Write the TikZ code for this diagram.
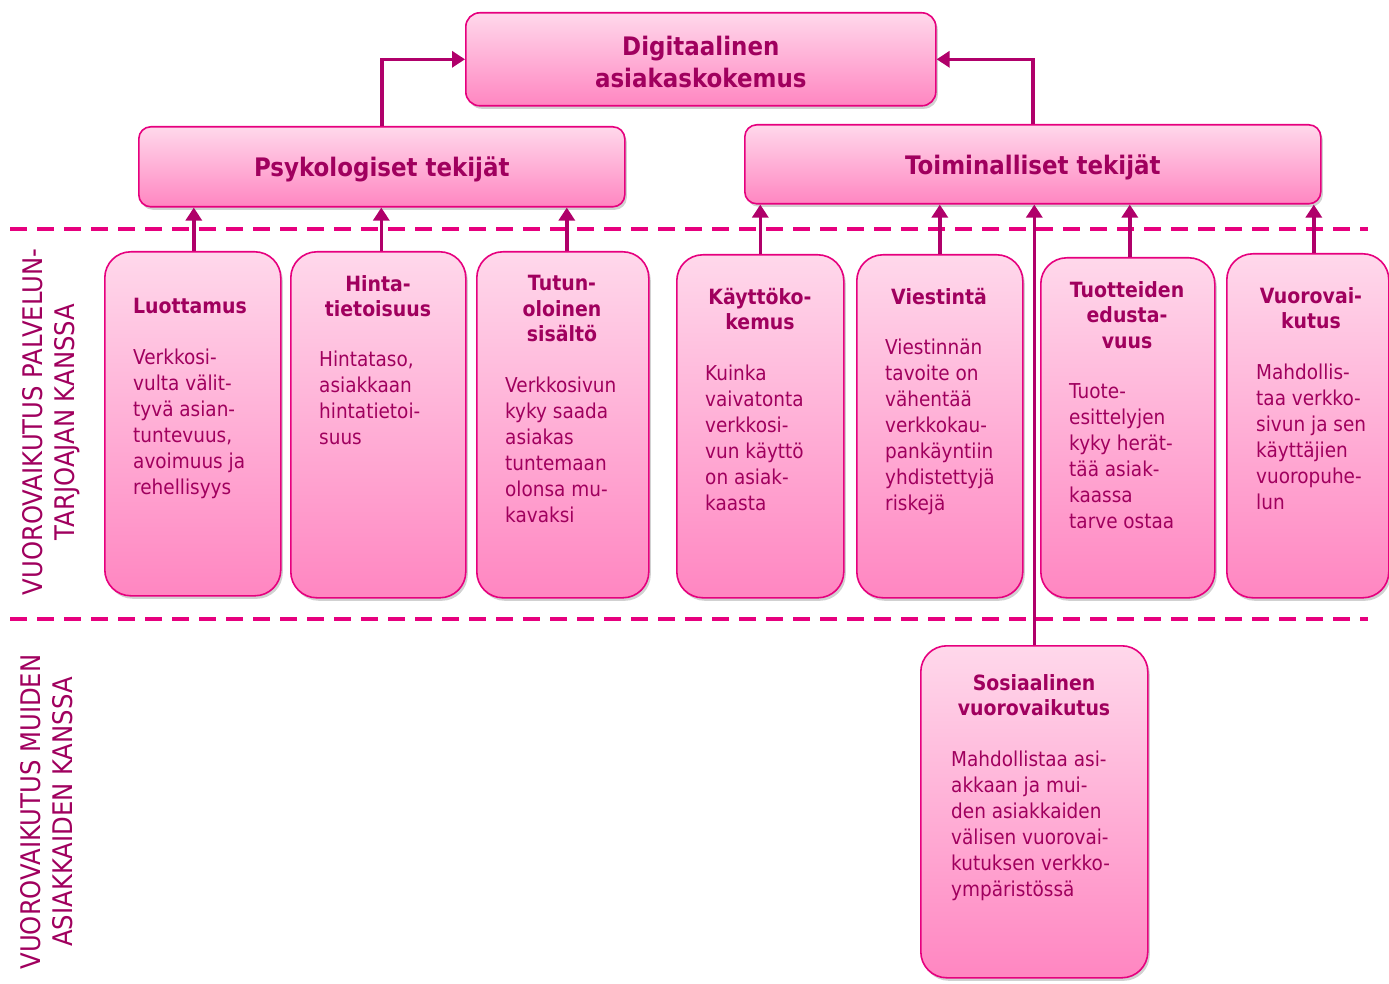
\documentclass[tikz,border=0pt]{standalone}
\usepackage{fontspec}
\setmainfont{DejaVu Sans}[FakeStretch=0.9]
\usetikzlibrary{arrows.meta,shadows}
\definecolor{txt}{HTML}{A0005E}
\definecolor{arr}{HTML}{B0006A}
\definecolor{bord}{HTML}{E6007E}
\definecolor{topc}{HTML}{FFD8EB}
\definecolor{botc}{HTML}{FF86C1}
\tikzset{
  pbox/.style={draw=bord, line width=1.6pt, top color=topc, bottom color=botc,
    rounded corners=#1, anchor=north west, inner sep=0pt,
    drop shadow={shadow xshift=2pt, shadow yshift=-3pt, opacity=0.3, fill=black!60}},
  hdr/.style={text=txt, font=\bfseries\fontsize{25.5}{32}\selectfont, align=center, inner sep=0pt},
  ttl/.style={text=txt, font=\bfseries\fontsize{21}{25.5}\selectfont, align=center, inner sep=0pt, anchor=north},
  bdy/.style={text=txt, font=\fontsize{20.5}{26}\selectfont, align=left, inner sep=0pt, anchor=north west},
  side/.style={text=txt, font=\fontsize{27}{32}\selectfont, align=center, inner sep=0pt, rotate=90},
  conn/.style={draw=arr, line width=3.5pt, -{Triangle[width=16pt,length=13pt]}},
  sep/.style={draw=bord, line width=4.5pt, dash pattern=on 17pt off 10pt},
}
\begin{document}
\begin{tikzpicture}[x=1pt,y=-1pt]
\useasboundingbox (0,0) rectangle (1389,984);
% separators
\coordinate (d1a) at (10,229); \coordinate (d1b) at (1368,229);
\coordinate (d2a) at (10,619); \coordinate (d2b) at (1368,619);
\draw[sep] (d1a) -- (d1b);
\draw[sep] (d2a) -- (d2b);
% side labels
\node[side] (s1) at (51,422) {VUOROVAIKUTUS PALVELUN-\\TARJOAJAN KANSSA};
\node[side] (s2) at (47,812) {VUOROVAIKUTUS MUIDEN\\ASIAKKAIDEN KANSSA};
% boxes
\node[pbox=14pt, minimum width=470pt, minimum height=93pt] (dig) at (465,12) {};
\node[pbox=12pt, minimum width=486pt, minimum height=80pt] (psy) at (138,126) {};
\node[pbox=12pt, minimum width=576pt, minimum height=79pt] (toi) at (744,124) {};
\node[pbox=26pt, minimum width=176pt, minimum height=344pt] (lu) at (104,251) {};
\node[pbox=26pt, minimum width=175pt, minimum height=346pt] (hi) at (290,251) {};
\node[pbox=26pt, minimum width=172pt, minimum height=346pt] (tu) at (476,251) {};
\node[pbox=26pt, minimum width=167pt, minimum height=343pt] (ka) at (676,254) {};
\node[pbox=26pt, minimum width=166pt, minimum height=343pt] (vi) at (856,254) {};
\node[pbox=26pt, minimum width=174pt, minimum height=340pt] (tt) at (1040,257) {};
\node[pbox=26pt, minimum width=162pt, minimum height=344pt] (vu) at (1226,253) {};
\node[pbox=26pt, minimum width=227pt, minimum height=332pt] (so) at (920,645) {};
% header texts
\node[hdr] (digt) at ([yshift=-3pt]dig.center) {Digitaalinen\\asiakaskokemus};
\node[hdr] (psyt) at ([yshift=-3pt]psy.center) {Psykologiset tekijät};
\node[hdr] (toit) at ([yshift=-3pt]toi.center) {Toiminalliset tekijät};
% box titles
\node[ttl] (lut) at (190,298) {Luottamus};
\node[ttl] (hit) at (378,275) {Hinta-\\tietoisuus};
\node[ttl] (tut) at (562,275) {Tutun-\\oloinen\\sisältö};
\node[ttl] (kat) at (760,288) {Käyttöko-\\kemus};
\node[ttl] (vit) at (939,288) {Viestintä};
\node[ttl] (ttt) at (1127,281) {Tuotteiden\\edusta-\\vuus};
\node[ttl] (vut) at (1311,287) {Vuorovai-\\kutus};
\node[ttl] (sot) at (1034,674) {Sosiaalinen\\vuorovaikutus};
% box bodies
\node[bdy] (lub) at (133,349) {Verkkosi-\\vulta välit-\\tyvä asian-\\tuntevuus,\\avoimuus ja\\rehellisyys};
\node[bdy] (hib) at (319,351) {Hintataso,\\asiakkaan\\hintatietoi-\\suus};
\node[bdy] (tub) at (505,377) {Verkkosivun\\kyky saada\\asiakas\\tuntemaan\\olonsa mu-\\kavaksi};
\node[bdy] (kab) at (705,365) {Kuinka\\vaivatonta\\verkkosi-\\vun käyttö\\on asiak-\\kaasta};
\node[bdy] (vib) at (885,339) {Viestinnän\\tavoite on\\vähentää\\verkkokau-\\pankäyntiin\\yhdistettyjä\\riskejä};
\node[bdy] (ttb) at (1069,383) {Tuote-\\esittelyjen\\kyky herät-\\tää asiak-\\kaassa\\tarve ostaa};
\node[bdy] (vub) at (1256,364) {Mahdollis-\\taa verkko-\\sivun ja sen\\käyttäjien\\vuoropuhe-\\lun};
\node[bdy] (sob) at (951,751) {Mahdollistaa asi-\\akkaan ja mui-\\den asiakkaiden\\välisen vuorovai-\\kutuksen verkko-\\ympäristössä};
% connectors
\draw[conn] (psy.north) |- (dig.west);
\draw[conn] (toi.north) |- (dig.east);
\draw[conn] ([xshift=1pt]lu.north) -- ([xshift=1pt]lu.north |- psy.south);
\draw[conn] ([xshift=3pt]hi.north) -- ([xshift=3pt]hi.north |- psy.south);
\draw[conn] ([xshift=4pt]tu.north) -- ([xshift=4pt]tu.north |- psy.south);
\draw[conn] (ka.north) -- (ka.north |- toi.south);
\draw[conn] (vi.north) -- (vi.north |- toi.south);
\draw[conn] ([xshift=2pt]tt.north) -- ([xshift=2pt]tt.north |- toi.south);
\draw[conn] ([xshift=6pt]vu.north) -- ([xshift=6pt]vu.north |- toi.south);
\draw[conn] (so.north) -- (so.north |- toi.south);
\end{tikzpicture}
\end{document}
